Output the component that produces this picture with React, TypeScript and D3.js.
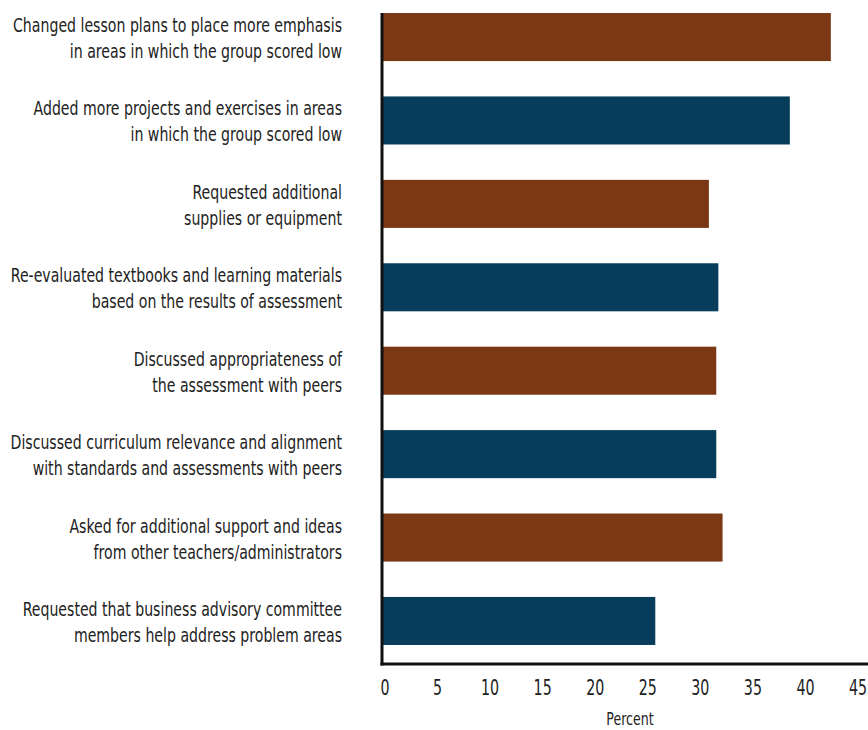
import React from "react";
import * as d3 from "d3";

const categories: string[][] = [
  ["Changed lesson plans to place more emphasis", "in areas in which the group scored low"],
  ["Added more projects and exercises in areas", "in which the group scored low"],
  ["Requested additional", "supplies or equipment"],
  ["Re-evaluated textbooks and learning materials", "based on the results of assessment"],
  ["Discussed appropriateness of", "the assessment with peers"],
  ["Discussed curriculum relevance and alignment", "with standards and assessments with peers"],
  ["Asked for additional support and ideas", "from other teachers/administrators"],
  ["Requested that business advisory committee", "members help address problem areas"],
];
const values: number[] = [42.7, 38.8, 31.1, 32.0, 31.8, 31.8, 32.4, 26.0];
const barColors: string[] = ["#7b3814", "#073c5a"];
const tickValues: number[] = [0, 5, 10, 15, 20, 25, 30, 35, 40, 45];
const axisTitle = "Percent";

const W = 868;
const H = 730;
const FONT = "'Liberation Sans Narrow', 'DejaVu Sans Condensed', 'Arial Narrow', sans-serif";
const LABEL_SX = 0.785;
const TICK_SX = 0.72;

export default function App() {
  const x = d3.scaleLinear().domain([0, 45]).range([382, 855]);
  const ids = categories.map((_, i) => String(i));
  const y = d3.scaleBand<string>().domain(ids).range([-6, 664]).paddingInner(0.424).paddingOuter(0.228);
  const bw = y.bandwidth();
  const axisX = x(0);
  const axisY = 664;
  const firstTop = y("0") as number;

  return (
    <svg width={W} height={H} style={{ position: "absolute", left: 0, top: 0, background: "#fff" }}>
      <rect x={0} y={0} width={W} height={H} fill="#fff" />
      {values.map((v, i) => (
        <rect
          key={i}
          x={axisX}
          y={y(String(i))}
          width={x(v) - axisX}
          height={bw}
          fill={barColors[i % 2]}
        />
      ))}
      {categories.map((lines, i) => {
        const cy = (y(String(i)) as number) + bw / 2;
        return (
          <g key={i} transform={`translate(342, ${cy}) scale(${LABEL_SX}, 1)`}>
            {lines.map((t, j) => (
              <text
                key={j}
                x={0}
                y={(j - (lines.length - 1) / 2) * 26 + 8}
                textAnchor="end"
                fontFamily={FONT}
                fontSize={20}
                fill="#222"
              >
                {t}
              </text>
            ))}
          </g>
        );
      })}
      <line x1={axisX} x2={axisX} y1={firstTop} y2={axisY + 1.5} stroke="#111" strokeWidth={3} />
      <line x1={axisX - 1.5} x2={W} y1={axisY} y2={axisY} stroke="#111" strokeWidth={3} />
      {tickValues.map((t) => (
        <g key={t} transform={`translate(${x(t) + 3}, 695) scale(${TICK_SX}, 1)`}>
          <text x={0} y={0} textAnchor="middle" fontFamily={FONT} fontSize={22} fill="#222">
            {t}
          </text>
        </g>
      ))}
      <g transform={`translate(630, 725) scale(0.78, 1)`}>
        <text x={0} y={0} textAnchor="middle" fontFamily={FONT} fontSize={18} fill="#222">
          {axisTitle}
        </text>
      </g>
    </svg>
  );
}
